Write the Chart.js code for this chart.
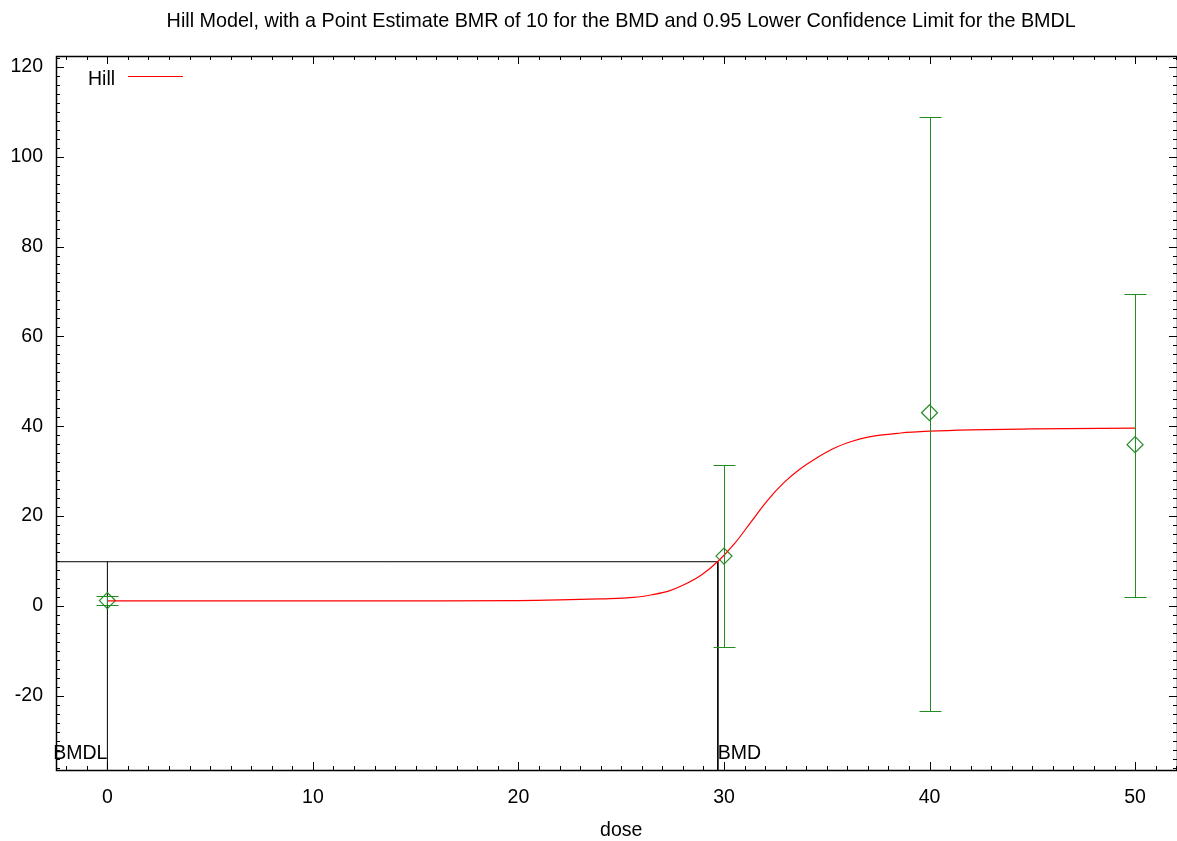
<!DOCTYPE html>
<html lang="en">
<head>
    <meta charset="UTF-8">
    <title>Hill Model BMD</title>
    <script src="https://cdn.jsdelivr.net/npm/chart.js"></script>
    <style>
        body {
            margin: 0;
            padding: 0;
            background: #ffffff;
            overflow: hidden;
        }
        .chart-box {
            width: 1177px;
            height: 841px;
        }
    </style>
</head>
<body>
    <div class="chart-box">
        <canvas id="hillChart"></canvas>
    </div>

    <script>
        // observed dose groups
        const doses = [0, 30, 40, 50];
        const meanResp = [1.2, 11.1, 43.0, 35.9];
        const lowerCI = [0.2, -9.1, -23.3, 2.1];
        const upperCI = [2.2, 31.3, 108.9, 69.5];

        // fitted Hill curve
        const hillDose = [0, 5, 10, 15, 20, 22, 24, 25.6, 26.5, 27.3, 28, 28.9, 29.7, 30.5, 31.3, 32.1, 32.9, 33.7, 34.6, 35.3, 36.2, 37, 38.6, 40, 42, 45, 50];
        const hillResp = [1.15, 1.15, 1.15, 1.15, 1.2, 1.35, 1.6, 1.9, 2.5, 3.3, 4.6, 6.9, 9.9, 13.8, 18.6, 23.4, 27.4, 30.5, 33.2, 35.0, 36.6, 37.6, 38.5, 38.9, 39.2, 39.4, 39.6];

        // benchmark values
        const bmd = 29.7;
        const bmdl = 0.0;
        const bmrResp = 9.85;

        const xTickLabels = [0, 10, 20, 30, 40, 50];
        const yTickLabels = [-20, 0, 20, 40, 60, 80, 100, 120];

        const titleText = "Hill Model, with a Point Estimate BMR of 10 for the BMD and 0.95 Lower Confidence Limit for the BMDL";
        const xAxisTitle = "dose";

        const X_MIN = -2.5, X_MAX = 52.04;
        const Y_MIN = -36.5, Y_MAX = 122.4;

        const FONT = "'Liberation Sans', Arial, sans-serif";
        const GREEN = "#228b22";

        const bmdLine = [
            { x: X_MIN, y: bmrResp }, { x: bmd, y: bmrResp }, { x: bmd, y: Y_MIN },
            { x: null, y: null },
            { x: bmdl, y: Y_MIN }, { x: bmdl, y: bmrResp }
        ];

        const framePlugin = {
            id: "frame",
            beforeDatasetsDraw(chart) {
                const ctx = chart.ctx;
                const xs = chart.scales.x, ys = chart.scales.y;
                const a = chart.chartArea;
                ctx.save();
                ctx.strokeStyle = "#000";
                ctx.lineWidth = 1;
                ctx.beginPath();
                // inward ticks on all four sides
                for (let v = Math.ceil(X_MIN); v <= X_MAX; v++) {
                    const px = Math.round(xs.getPixelForValue(v)) + 0.5;
                    const len = v % 10 === 0 ? 8 : 4;
                    ctx.moveTo(px, a.bottom); ctx.lineTo(px, a.bottom - len);
                    ctx.moveTo(px, a.top); ctx.lineTo(px, a.top + len);
                }
                for (let v = Math.ceil(Y_MIN / 2) * 2; v <= Y_MAX; v += 2) {
                    const py = Math.round(ys.getPixelForValue(v)) + 0.5;
                    const len = v % 20 === 0 ? 8 : 4;
                    ctx.moveTo(a.left, py); ctx.lineTo(a.left + len, py);
                    ctx.moveTo(a.right, py); ctx.lineTo(a.right - len, py);
                }
                ctx.stroke();
                ctx.lineWidth = 1.5;
                ctx.strokeRect(a.left + 0.5, a.top + 0.5, a.right - a.left, a.bottom - a.top);

                // title and axis title, centred on the plot like gnuplot does
                ctx.fillStyle = "#000";
                ctx.font = "19.8px " + FONT;
                ctx.textAlign = "center";
                ctx.textBaseline = "middle";
                ctx.fillText(titleText, xs.getPixelForValue(25), 22);
                ctx.font = "19.5px " + FONT;
                ctx.fillText(xAxisTitle, xs.getPixelForValue(25), 831);
                ctx.restore();
            },
            afterDatasetsDraw(chart) {
                const ctx = chart.ctx;
                const xs = chart.scales.x, ys = chart.scales.y;
                ctx.save();
                // error bars
                ctx.strokeStyle = GREEN;
                ctx.lineWidth = 1;
                ctx.beginPath();
                for (let i = 0; i < doses.length; i++) {
                    const px = Math.round(xs.getPixelForValue(doses[i])) + 0.5;
                    const lo = Math.round(ys.getPixelForValue(lowerCI[i])) + 0.5;
                    const hi = Math.round(ys.getPixelForValue(upperCI[i])) + 0.5;
                    ctx.moveTo(px, lo); ctx.lineTo(px, hi);
                    ctx.moveTo(px - 11, lo); ctx.lineTo(px + 11, lo);
                    ctx.moveTo(px - 11, hi); ctx.lineTo(px + 11, hi);
                }
                ctx.stroke();

                // BMD / BMDL labels
                ctx.fillStyle = "#000";
                ctx.font = "19.5px " + FONT;
                ctx.textBaseline = "alphabetic";
                ctx.textAlign = "right";
                ctx.fillText("BMDL", xs.getPixelForValue(bmdl), 759);
                ctx.textAlign = "left";
                ctx.fillText("BMD", xs.getPixelForValue(bmd), 759);

                // legend
                ctx.textAlign = "left";
                ctx.fillText(chart.data.datasets[0].label, 88, 85);
                ctx.strokeStyle = "#ff0000";
                ctx.beginPath();
                ctx.moveTo(128, 76.5); ctx.lineTo(183, 76.5);
                ctx.stroke();
                ctx.restore();
            }
        };

        new Chart(document.getElementById("hillChart"), {
            type: "scatter",
            data: {
                datasets: [
                    {
                        type: "line",
                        label: "Hill",
                        data: hillDose.map((d, i) => ({ x: d, y: hillResp[i] })),
                        borderColor: "#ff0000",
                        borderWidth: 1.2,
                        pointRadius: 0,
                        cubicInterpolationMode: "monotone",
                        fill: false
                    },
                    {
                        label: "Observed",
                        data: doses.map((d, i) => ({ x: d, y: meanResp[i] })),
                        pointStyle: "rectRot",
                        pointRadius: 8,
                        borderColor: GREEN,
                        backgroundColor: "rgba(0,0,0,0)",
                        borderWidth: 1.2
                    },
                    {
                        type: "line",
                        label: "BMD",
                        data: bmdLine,
                        borderColor: "#000",
                        borderWidth: 1,
                        pointRadius: 0,
                        spanGaps: false,
                        fill: false
                    }
                ]
            },
            options: {
                responsive: true,
                maintainAspectRatio: false,
                animation: false,
                layout: { autoPadding: false, padding: { top: 56, left: 0, right: 0, bottom: 0 } },
                plugins: {
                    legend: { display: false },
                    tooltip: { enabled: false },
                    title: { display: false }
                },
                scales: {
                    x: {
                        type: "linear",
                        min: X_MIN,
                        max: X_MAX,
                        afterBuildTicks: s => { s.ticks = xTickLabels.map(v => ({ value: v })); },
                        afterFit: s => { s.height = 71; s.paddingLeft = 0; s.paddingRight = 0; },
                        grid: { display: false, drawTicks: false },
                        border: { display: false },
                        ticks: { color: "#000", font: { family: FONT, size: 19.5 }, padding: 16, maxRotation: 0 }
                    },
                    y: {
                        type: "linear",
                        min: Y_MIN,
                        max: Y_MAX,
                        afterBuildTicks: s => { s.ticks = yTickLabels.map(v => ({ value: v })); },
                        afterFit: s => { s.width = 56; s.paddingTop = 0; s.paddingBottom = 0; },
                        grid: { display: false, drawTicks: false },
                        border: { display: false },
                        ticks: { color: "#000", font: { family: FONT, size: 19.5 }, padding: 13 }
                    }
                }
            },
            plugins: [framePlugin]
        });
    </script>
</body>
</html>
